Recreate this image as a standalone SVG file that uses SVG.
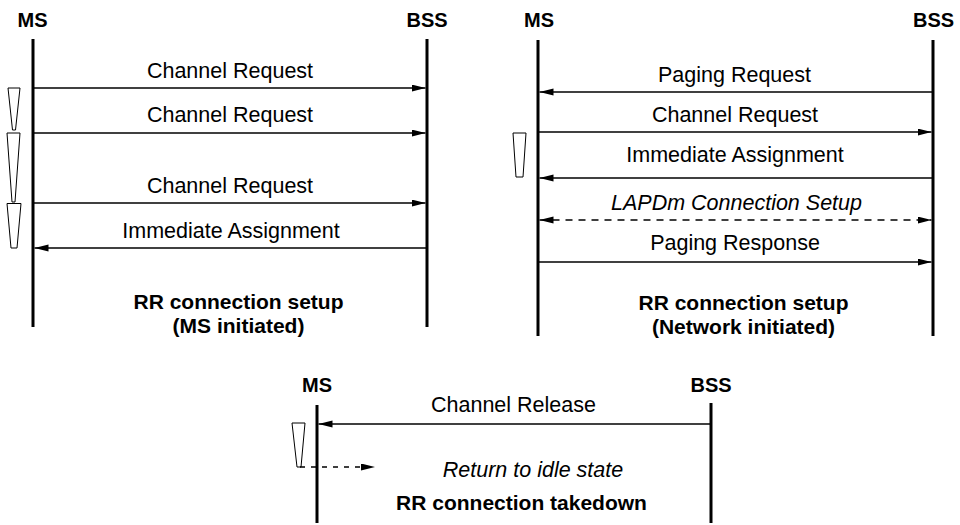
<svg xmlns="http://www.w3.org/2000/svg" width="960" height="525" viewBox="0 0 960 525">
<style>
.life{stroke:#000;stroke-width:3;fill:none}
.msg{stroke:#000;stroke-width:1.3;fill:none}
.dash{stroke:#000;stroke-width:1.3;fill:none;stroke-dasharray:7 6}
.dash2{stroke:#000;stroke-width:1.3;fill:none;stroke-dasharray:5 6}
.timer{stroke:#000;stroke-width:1;fill:#fff}
.hd{font-family:"Liberation Sans",Arial,sans-serif;font-weight:bold;font-size:20px;text-anchor:middle;fill:#000}
.lb{font-family:"Liberation Sans",Arial,sans-serif;font-size:21.5px;text-anchor:middle;fill:#000}
.it{font-family:"Liberation Sans",Arial,sans-serif;font-size:21.5px;font-style:italic;text-anchor:middle;fill:#000}
.ti{font-family:"Liberation Sans",Arial,sans-serif;font-weight:bold;font-size:21px;text-anchor:middle;fill:#000}
</style>
<defs>
<marker id="ah" markerUnits="userSpaceOnUse" markerWidth="15" markerHeight="8" refX="14" refY="3.5" orient="auto-start-reverse" viewBox="0 0 15 8">
<path d="M0,0 L14,3.5 L0,7 z" fill="#000"/>
</marker>
</defs>

<!-- Left diagram: MS initiated -->
<g id="ms-left"><text class="hd" x="32.5" y="27">MS</text><line class="life" x1="33" y1="39" x2="33" y2="327"/></g>
<g id="bss-left"><text class="hd" x="427" y="27">BSS</text><line class="life" x1="427" y1="39" x2="427" y2="327"/></g>
<g id="timers-left">
<polygon class="timer" points="8,88 20,88 15.5,130 12.5,130"/>
<polygon class="timer" points="7,133 20,133 15,202 12,202"/>
<polygon class="timer" points="7,203.5 21,203.5 17,248 11,248"/>
</g>
<g id="title-left"><text class="ti" x="238.5" y="309">RR connection setup</text><text class="ti" x="238.5" y="333">(MS initiated)</text></g>

<!-- Right diagram: Network initiated -->
<g id="ms-right"><text class="hd" x="539" y="27">MS</text><line class="life" x1="538" y1="40" x2="538" y2="336"/></g>
<g id="bss-right"><text class="hd" x="933.5" y="27">BSS</text><line class="life" x1="933" y1="40" x2="933" y2="336"/></g>
<g id="timer-right"><polygon class="timer" points="513,133 526,133 523,177 516,177"/></g>
<g id="title-right"><text class="ti" x="743.5" y="310">RR connection setup</text><text class="ti" x="743.5" y="334">(Network initiated)</text></g>

<!-- Bottom diagram: takedown -->
<g id="ms-bottom"><text class="hd" x="317" y="392">MS</text><line class="life" x1="317" y1="405" x2="317" y2="523"/></g>
<g id="bss-bottom"><text class="hd" x="711" y="392">BSS</text><line class="life" x1="711" y1="403" x2="711" y2="523"/></g>
<g id="timer-bottom"><polygon class="timer" points="292,423 305,423 301,467 297,467"/></g>
<g id="title-bottom"><text class="ti" x="521.5" y="510">RR connection takedown</text></g>

<g id="connectors">
<!-- left -->
<line class="msg" x1="34" y1="88" x2="425.5" y2="88" marker-end="url(#ah)"/>
<text class="lb" x="230" y="78">Channel Request</text>
<line class="msg" x1="34" y1="133" x2="425.5" y2="133" marker-end="url(#ah)"/>
<text class="lb" x="230" y="122">Channel Request</text>
<line class="msg" x1="34" y1="203" x2="425.5" y2="203" marker-end="url(#ah)"/>
<text class="lb" x="230" y="193">Channel Request</text>
<line class="msg" x1="426" y1="248" x2="34.5" y2="248" marker-end="url(#ah)"/>
<text class="lb" x="231" y="238">Immediate Assignment</text>
<!-- right -->
<line class="msg" x1="932" y1="92" x2="539.5" y2="92" marker-end="url(#ah)"/>
<text class="lb" x="734.5" y="82">Paging Request</text>
<line class="msg" x1="539" y1="132" x2="931.5" y2="132" marker-end="url(#ah)"/>
<text class="lb" x="735" y="122">Channel Request</text>
<line class="msg" x1="932" y1="178" x2="539.5" y2="178" marker-end="url(#ah)"/>
<text class="lb" x="735" y="162">Immediate Assignment</text>
<line class="dash" x1="539.5" y1="220" x2="931.5" y2="220" marker-start="url(#ah)" marker-end="url(#ah)"/>
<text class="it" x="736.5" y="210">LAPDm Connection Setup</text>
<line class="msg" x1="539" y1="262" x2="931.5" y2="262" marker-end="url(#ah)"/>
<text class="lb" x="735" y="250">Paging Response</text>
<!-- bottom -->
<line class="msg" x1="710" y1="424" x2="318.5" y2="424" marker-end="url(#ah)"/>
<text class="lb" x="513.5" y="412">Channel Release</text>
<line class="dash2" x1="300" y1="467" x2="375" y2="467" marker-end="url(#ah)"/>
<text class="it" x="533" y="477">Return to idle state</text>
</g>
</svg>
